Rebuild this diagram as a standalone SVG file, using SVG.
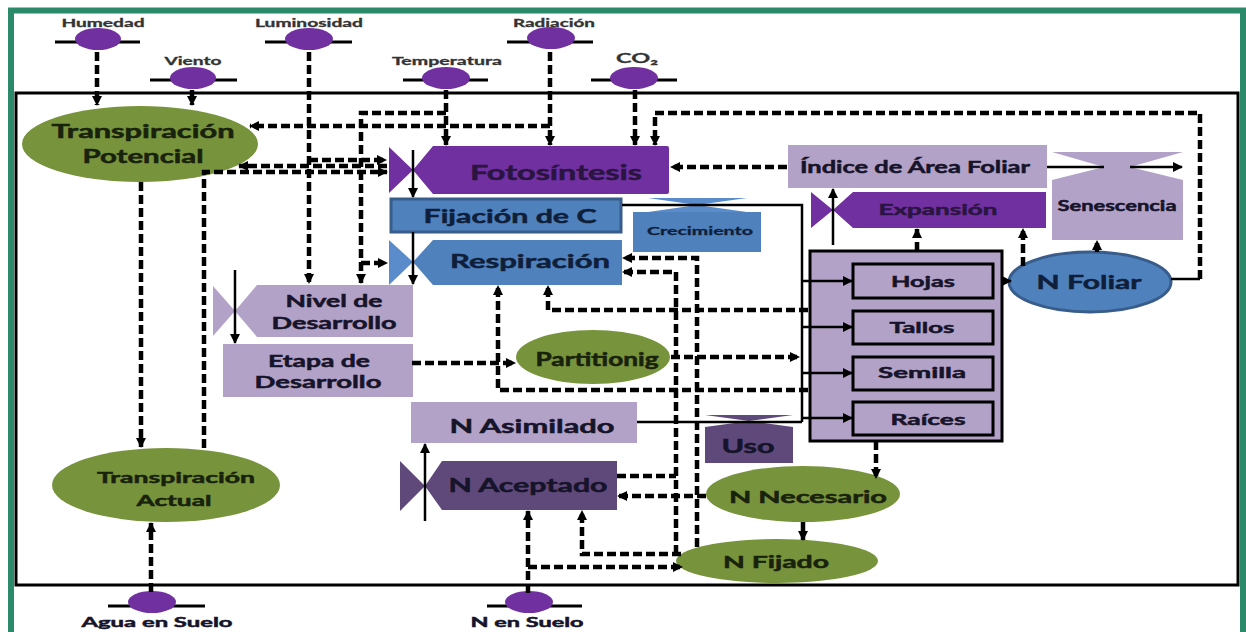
<svg xmlns="http://www.w3.org/2000/svg" width="1246" height="632" viewBox="0 0 1246 632">
<defs>
<style>
.d{fill:none;stroke:#000;stroke-width:4.5;stroke-dasharray:9 4}
.s{fill:none;stroke:#000;stroke-width:2.5}
.t{font-family:Lato,"Liberation Sans",sans-serif;font-weight:700;fill:#16142a;stroke:#16142a;stroke-width:0.5;text-anchor:middle}
.tg{font-family:Lato,"Liberation Sans",sans-serif;font-weight:700;fill:#18220c;stroke:#18220c;stroke-width:0.5;text-anchor:middle}
.te{font-family:Lato,"Liberation Sans",sans-serif;font-weight:700;fill:#333;stroke:#333;stroke-width:0.3;text-anchor:middle;font-size:11px}
.env{fill:#7030a0}
.green{fill:#77933c}
.lav{fill:#b3a2c7}
.pur{fill:#7030a0}
.dpur{fill:#5f497a}
.blue{fill:#4f81bd}
.lblue{fill:#5a8ccc}
.bar{stroke:#000;stroke-width:3}
</style>
<marker id="ah" viewBox="0 0 10 10" refX="9" refY="5" markerWidth="10" markerHeight="10" markerUnits="userSpaceOnUse" orient="auto"><path d="M0,0 L10,5 L0,10 z" fill="#000"/></marker>
</defs>
<rect width="1246" height="632" fill="#fff"/>
<rect x="11" y="10.5" width="1232" height="640" fill="none" stroke="#2b8a6a" stroke-width="6"/>
<rect x="16" y="93" width="1222" height="492" fill="none" stroke="#000" stroke-width="3"/>

<g id="humedad"><line class="bar" x1="55" y1="42" x2="140" y2="42"/><ellipse class="env" cx="98" cy="39" rx="23" ry="11"/><text class="te" x="103" y="27" textLength="83" lengthAdjust="spacingAndGlyphs">Humedad</text></g>
<g id="luminosidad"><line class="bar" x1="265" y1="42" x2="352" y2="42"/><ellipse class="env" cx="309" cy="39" rx="24" ry="11"/><text class="te" x="309" y="27" textLength="108" lengthAdjust="spacingAndGlyphs">Luminosidad</text></g>
<g id="viento"><line class="bar" x1="150" y1="80" x2="237" y2="80"/><ellipse class="env" cx="193" cy="78" rx="23" ry="11"/><text class="te" x="193" y="65" textLength="57" lengthAdjust="spacingAndGlyphs">Viento</text></g>
<g id="temperatura"><line class="bar" x1="403" y1="80" x2="488" y2="80"/><ellipse class="env" cx="446" cy="78" rx="24" ry="11"/><text class="te" x="447" y="65" textLength="110" lengthAdjust="spacingAndGlyphs">Temperatura</text></g>
<g id="radiacion"><line class="bar" x1="507" y1="42" x2="593" y2="42"/><ellipse class="env" cx="551" cy="38" rx="24" ry="11"/><text class="te" x="554" y="27" textLength="82" lengthAdjust="spacingAndGlyphs">Radiación</text></g>
<g id="co2"><line class="bar" x1="591" y1="80" x2="677" y2="80"/><ellipse class="env" cx="634" cy="78" rx="24" ry="11"/><text class="te" x="637" y="63" style="font-size:14px" textLength="42" lengthAdjust="spacingAndGlyphs">CO₂</text></g>
<g id="agua-suelo"><line class="bar" x1="108" y1="606" x2="205" y2="606"/><ellipse class="env" cx="152" cy="602" rx="24" ry="11"/><text class="t" x="157" y="627" style="font-size:14px" textLength="151" lengthAdjust="spacingAndGlyphs">Agua en Suelo</text></g>
<g id="n-suelo"><line class="bar" x1="487" y1="606" x2="582" y2="606"/><ellipse class="env" cx="529" cy="602" rx="24" ry="11"/><text class="t" x="527" y="627" style="font-size:14px" textLength="113" lengthAdjust="spacingAndGlyphs">N en Suelo</text></g>

<g id="transpiracion-potencial"><ellipse class="green" cx="140" cy="144" rx="118" ry="38"/><text class="tg" x="143" y="138" style="font-size:19px" textLength="183" lengthAdjust="spacingAndGlyphs">Transpiración</text><text class="tg" x="143" y="163" style="font-size:19px" textLength="121" lengthAdjust="spacingAndGlyphs">Potencial</text></g>
<g id="transpiracion-actual"><ellipse class="green" cx="166" cy="485" rx="114" ry="37"/><text class="tg" x="176" y="483" style="font-size:16px" textLength="158" lengthAdjust="spacingAndGlyphs">Transpiración</text><text class="tg" x="174" y="506" style="font-size:16px" textLength="75" lengthAdjust="spacingAndGlyphs">Actual</text></g>
<g id="fotosintesis"><path class="pur" d="M389,147 L413,170 L389,193 Z M413,170 L433,146 L667,146 Q669,146 669,148 L669,192 Q669,194 667,194 L433,194 Z"/><text class="t" x="556" y="180" style="font-size:21px;fill:#2a1540;stroke:#2a1540" textLength="172" lengthAdjust="spacingAndGlyphs">Fotosíntesis</text></g>
<g id="fijacion-c"><rect class="blue" x="391" y="199" width="230" height="33" stroke="#385d8a" stroke-width="3"/><text class="t" x="510" y="223" style="font-size:19px;fill:#0f1f3a;stroke:#0f1f3a" textLength="173" lengthAdjust="spacingAndGlyphs">Fijación de C</text></g>
<g id="crecimiento"><path class="lblue" d="M648,198 L747,198 L697,205 Z M697,205 L747,212 L648,212 Z"/><rect class="blue" x="633" y="212" width="128" height="40"/><text class="t" x="700" y="235" style="font-size:11px;fill:#0f1f3a;stroke:#0f1f3a;stroke-width:0.3" textLength="106" lengthAdjust="spacingAndGlyphs">Crecimiento</text></g>
<g id="respiracion"><path class="lblue" d="M389,240 L413,262 L389,285 Z"/><path class="blue" d="M413,262 L433,240 L622,240 L622,285 L433,285 Z"/><text class="t" x="530" y="268" style="font-size:19px;fill:#0f1f3a;stroke:#0f1f3a" textLength="160" lengthAdjust="spacingAndGlyphs">Respiración</text></g>
<g id="nivel-desarrollo"><path class="lav" d="M213,286 L235,311 L213,336 Z M235,311 L257,285 L413,285 L413,337 L257,337 Z"/><text class="t" x="334" y="307" style="font-size:17px" textLength="97" lengthAdjust="spacingAndGlyphs">Nivel de</text><text class="t" x="334" y="329" style="font-size:17px" textLength="125" lengthAdjust="spacingAndGlyphs">Desarrollo</text></g>
<g id="etapa-desarrollo"><rect class="lav" x="223" y="344" width="190" height="53"/><text class="t" x="319" y="367" style="font-size:17px" textLength="102" lengthAdjust="spacingAndGlyphs">Etapa de</text><text class="t" x="318" y="388" style="font-size:17px" textLength="127" lengthAdjust="spacingAndGlyphs">Desarrollo</text></g>
<g id="partitionig"><ellipse class="green" cx="593" cy="357" rx="77" ry="27"/><text class="tg" x="597" y="366" style="font-size:18px" textLength="123" lengthAdjust="spacingAndGlyphs">Partitionig</text></g>
<g id="indice-area-foliar"><rect class="lav" x="788" y="145" width="259" height="43"/><text class="t" x="915" y="173" style="font-size:17px" textLength="230" lengthAdjust="spacingAndGlyphs">Índice de Área Foliar</text></g>
<g id="senescencia"><path class="lav" d="M1052,152 L1183,152 L1130,167 L1104,167 Z M1104,167 L1130,167 L1183,180 L1183,240 L1052,240 L1052,180 Z"/><text class="t" x="1117" y="211" style="font-size:15px" textLength="119" lengthAdjust="spacingAndGlyphs">Senescencia</text></g>
<g id="expansion"><path class="pur" d="M811,192 L833,210 L811,228 Z M833,210 L853,192 L1046,192 L1046,228 L853,228 Z"/><text class="t" x="938" y="215" style="font-size:16px;fill:#2a1540;stroke:#2a1540" textLength="119" lengthAdjust="spacingAndGlyphs">Expansión</text></g>
<g id="organos"><rect class="lav" x="810" y="251" width="192" height="190" stroke="#000" stroke-width="3"/></g>
<g id="hojas"><rect class="lav" x="853" y="264" width="140" height="34" stroke="#000" stroke-width="3"/><text class="t" x="923" y="287" style="font-size:16px" textLength="64" lengthAdjust="spacingAndGlyphs">Hojas</text></g>
<g id="tallos"><rect class="lav" x="853" y="311" width="140" height="33" stroke="#000" stroke-width="3"/><text class="t" x="922" y="333" style="font-size:16px" textLength="65" lengthAdjust="spacingAndGlyphs">Tallos</text></g>
<g id="semilla"><rect class="lav" x="853" y="357" width="140" height="33" stroke="#000" stroke-width="3"/><text class="t" x="922" y="378" style="font-size:16px" textLength="88" lengthAdjust="spacingAndGlyphs">Semilla</text></g>
<g id="raices"><rect class="lav" x="853" y="402" width="140" height="33" stroke="#000" stroke-width="3"/><text class="t" x="928" y="425" style="font-size:16px" textLength="75" lengthAdjust="spacingAndGlyphs">Raíces</text></g>
<g id="n-foliar"><ellipse class="blue" cx="1090" cy="282" rx="81" ry="30" stroke="#385d8a" stroke-width="3"/><text class="t" x="1089" y="289" style="font-size:19px;fill:#0f1f3a;stroke:#0f1f3a" textLength="105" lengthAdjust="spacingAndGlyphs">N Foliar</text></g>
<g id="n-asimilado"><rect class="lav" x="411" y="402" width="226" height="41"/><text class="t" x="532" y="433" style="font-size:19px" textLength="165" lengthAdjust="spacingAndGlyphs">N Asimilado</text></g>
<g id="n-aceptado"><path class="dpur" d="M400,461 L425,486 L400,511 Z M425,486 L442,461 L617,461 L617,510 L442,510 Z"/><text class="t" x="528" y="492" style="font-size:19px" textLength="159" lengthAdjust="spacingAndGlyphs">N Aceptado</text></g>
<g id="uso"><path class="dpur" d="M705,415 L793,415 L749,421 Z M749,421 L793,427 L705,427 Z"/><rect class="dpur" x="705" y="427" width="88" height="36"/><text class="t" x="748" y="453" style="font-size:19px" textLength="53" lengthAdjust="spacingAndGlyphs">Uso</text></g>
<g id="n-necesario"><ellipse class="green" cx="803" cy="494" rx="97" ry="28"/><text class="tg" x="808" y="503" style="font-size:17px" textLength="158" lengthAdjust="spacingAndGlyphs">N Necesario</text></g>
<g id="n-fijado"><ellipse class="green" cx="777" cy="561" rx="101" ry="22"/><text class="tg" x="776" y="568" style="font-size:17px" textLength="106" lengthAdjust="spacingAndGlyphs">N Fijado</text></g>

<g id="connectors">
<path class="d" d="M97,52 V105" marker-end="url(#ah)"/>
<path class="d" d="M192,90 V105" marker-end="url(#ah)"/>
<path class="d" d="M309,52 V283" marker-end="url(#ah)"/>
<path class="d" d="M309,160 H386" marker-end="url(#ah)"/>
<path class="d" d="M446,90 V145" marker-end="url(#ah)"/>
<path class="d" d="M446,113 H361 V283" marker-end="url(#ah)"/>
<path class="d" d="M361,263 H387" marker-end="url(#ah)"/>
<path class="d" d="M550,52 V145" marker-end="url(#ah)"/>
<path class="d" d="M550,126 H250" marker-end="url(#ah)"/>
<path class="d" d="M635,90 V145" marker-end="url(#ah)"/>
<path class="s" d="M1171,279 H1200"/>
<path class="d" d="M1200,279 V113 H655 V145" marker-end="url(#ah)"/>
<path class="d" d="M787,167 H671" marker-end="url(#ah)"/>
<path class="d" d="M204,448 V172 H387" marker-end="url(#ah)"/>
<path class="d" d="M387,166 H239" marker-end="url(#ah)"/>
<path class="d" d="M141,182 V447" marker-end="url(#ah)"/>
<path class="d" d="M151,592 V523" marker-end="url(#ah)"/>
<path class="s" d="M413,150 V197" marker-end="url(#ah)"/>
<path class="s" d="M413,232 V284" marker-end="url(#ah)"/>
<path class="s" d="M235,270 V343" marker-end="url(#ah)"/>
<path class="s" d="M833,245 V189" marker-end="url(#ah)"/>
<path class="s" d="M425,521 V444" marker-end="url(#ah)"/>
<path class="s" d="M622,205 H802 V422"/>
<path class="s" d="M637,422 H802"/>
<path class="s" d="M802,281 H852" marker-end="url(#ah)"/>
<path class="s" d="M802,327 H852" marker-end="url(#ah)"/>
<path class="s" d="M802,373 H852" marker-end="url(#ah)"/>
<path class="s" d="M802,418 H852" marker-end="url(#ah)"/>
<path class="s" d="M1002,281 H1011" marker-end="url(#ah)"/>
<path class="s" d="M1047,167 H1104"/>
<path class="s" d="M1130,167 H1182" marker-end="url(#ah)"/>
<path class="d" d="M917,251 V229" marker-end="url(#ah)"/>
<path class="d" d="M1023,266 V229" marker-end="url(#ah)"/>
<path class="d" d="M1097,252 V241" marker-end="url(#ah)"/>
<path class="d" d="M876,441 V478" marker-end="url(#ah)"/>
<path class="d" d="M803,522 V540" marker-end="url(#ah)"/>
<path class="d" d="M808,310 H548 V286" marker-end="url(#ah)"/>
<path class="d" d="M808,390 H498 V286" marker-end="url(#ah)"/>
<path class="d" d="M697,547 V258 H623" marker-end="url(#ah)"/>
<path class="d" d="M676,554 V272 H623" marker-end="url(#ah)"/>
<path class="d" d="M681,554 H582 V511" marker-end="url(#ah)"/>
<path class="d" d="M617,476 H676"/>
<path class="d" d="M706,496 H618" marker-end="url(#ah)"/>
<path class="d" d="M528,593 V511" marker-end="url(#ah)"/>
<path class="d" d="M528,567 H682" marker-end="url(#ah)"/>
<path class="d" d="M412,363 H515" marker-end="url(#ah)"/>
<path class="d" d="M671,357 H799" marker-end="url(#ah)"/>
</g>
</svg>
